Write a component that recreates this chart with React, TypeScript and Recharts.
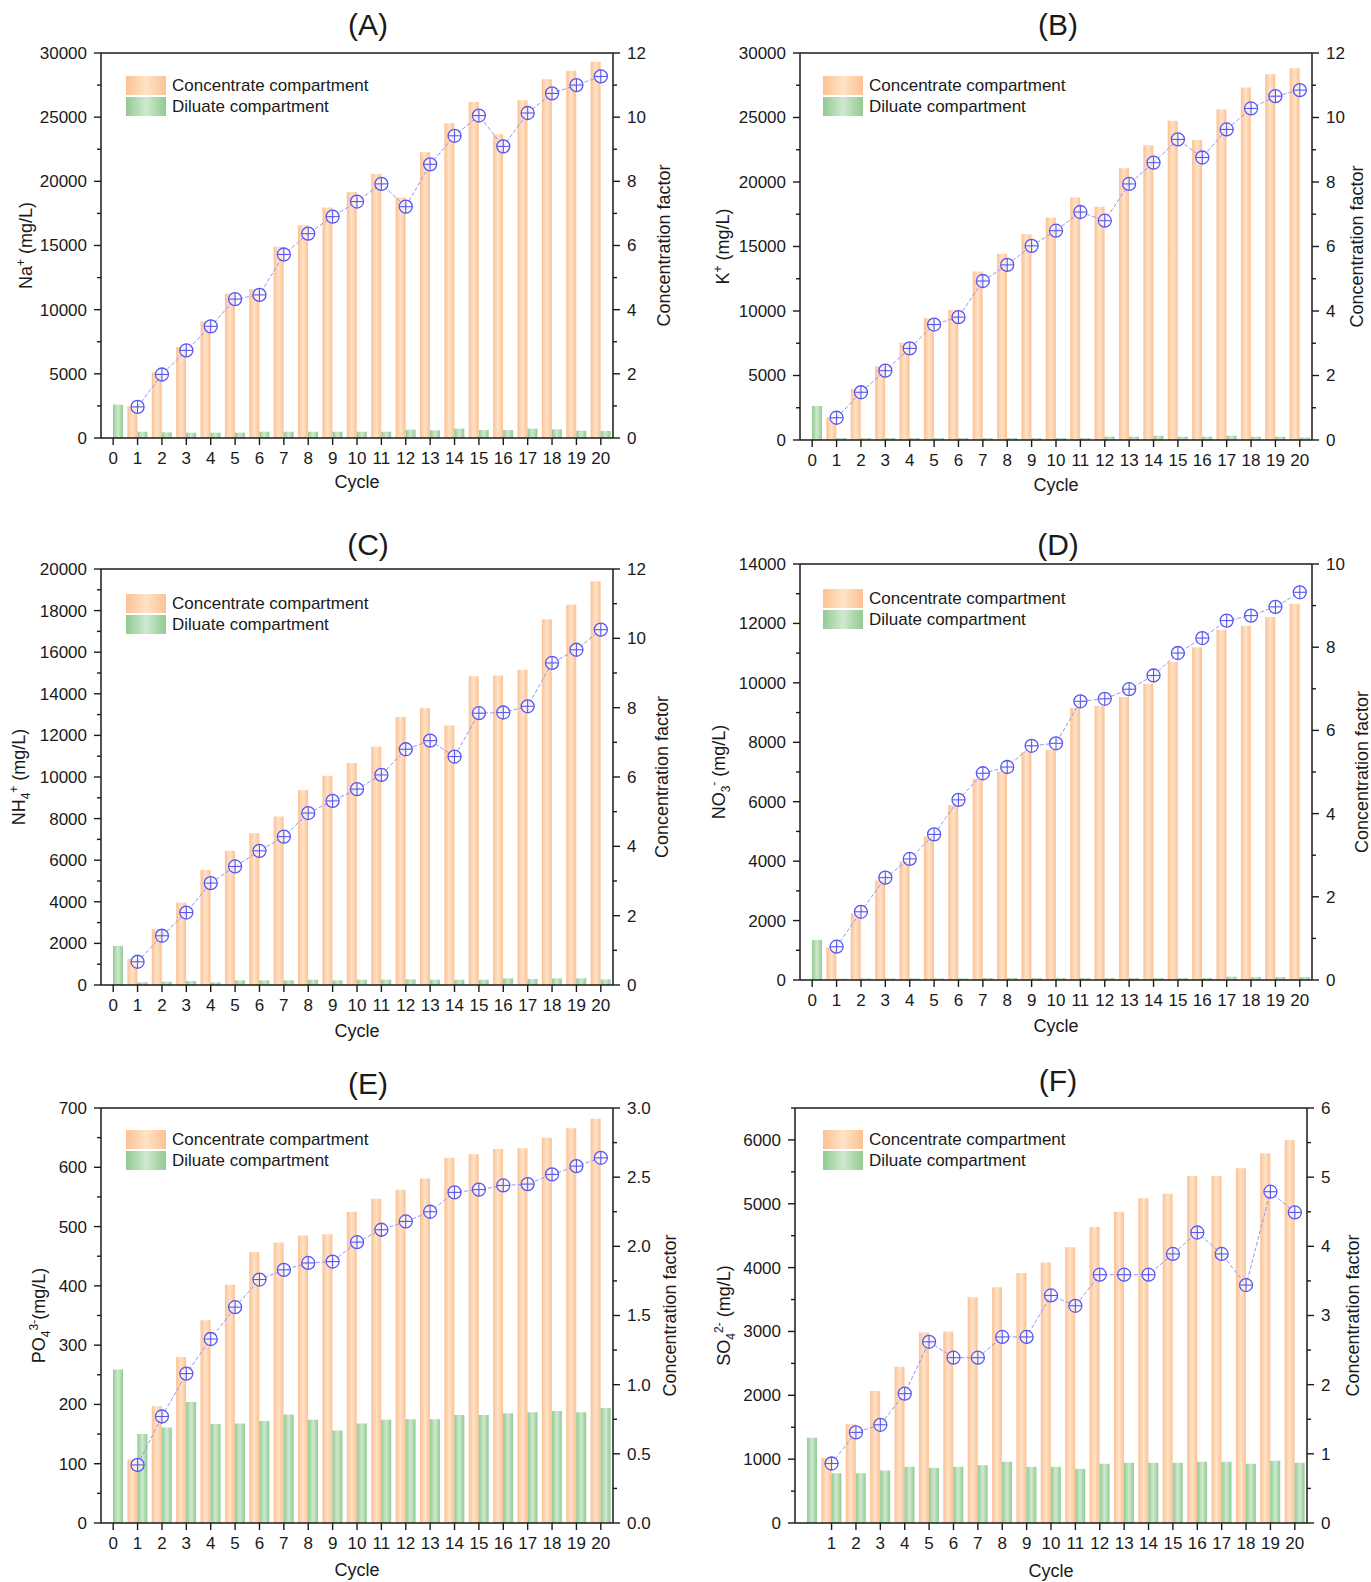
import React from 'react';
import { ComposedChart, Bar, Line, XAxis, YAxis, ReferenceLine, Legend } from 'recharts';

// ---------- data ----------
const cycles = [0, 1, 2, 3, 4, 5, 6, 7, 8, 9, 10, 11, 12, 13, 14, 15, 16, 17, 18, 19, 20];

const naConc = [null, 2470, 5120, 7090, 9090, 11250, 11610, 14910, 16570, 17970, 19170, 20570, 18750, 22260, 24520, 26180, 23660, 26310, 27950, 28620, 29320];
const naDil = [2600, 490, 440, 415, 415, 415, 490, 490, 490, 490, 490, 490, 650, 600, 730, 620, 620, 730, 680, 570, 545];
const naCF = [null, 0.97, 1.98, 2.73, 3.48, 4.33, 4.46, 5.72, 6.37, 6.9, 7.37, 7.92, 7.21, 8.53, 9.42, 10.05, 9.09, 10.13, 10.74, 11.0, 11.27];

const kConc = [null, 1750, 3970, 5720, 7530, 9460, 10100, 13070, 14430, 15950, 17240, 18790, 18090, 21060, 22840, 24740, 23250, 25620, 27320, 28350, 28810];
const kDil = [2630, 155, 155, 155, 155, 155, 155, 155, 155, 155, 155, 155, 260, 260, 335, 260, 260, 335, 260, 260, 200];
const kCF = [null, 0.69, 1.48, 2.15, 2.84, 3.58, 3.81, 4.93, 5.43, 6.02, 6.49, 7.07, 6.8, 7.94, 8.6, 9.32, 8.76, 9.63, 10.28, 10.66, 10.85];

const nh4Conc = [null, 1250, 2680, 3960, 5530, 6450, 7300, 8100, 9380, 10060, 10670, 11470, 12880, 13310, 12480, 14840, 14880, 15160, 17590, 18280, 19410];
const nh4Dil = [1880, 130, 160, 190, 130, 225, 225, 225, 255, 225, 255, 255, 270, 255, 255, 255, 320, 290, 320, 320, 270];
const nh4CF = [null, 0.67, 1.42, 2.09, 2.94, 3.42, 3.87, 4.28, 4.96, 5.31, 5.65, 6.06, 6.8, 7.05, 6.59, 7.84, 7.86, 8.04, 9.29, 9.67, 10.25];

const no3Conc = [null, 1100, 2245, 3345, 3985, 4830, 5890, 6770, 7020, 7670, 7750, 9150, 9230, 9520, 9970, 10700, 11200, 11790, 11920, 12220, 12660];
const no3Dil = [1350, 45, 56, 56, 56, 56, 56, 67, 67, 67, 67, 67, 67, 67, 67, 67, 67, 112, 100, 100, 100];
const no3CF = [null, 0.8, 1.64, 2.46, 2.91, 3.5, 4.33, 4.97, 5.12, 5.63, 5.69, 6.7, 6.76, 6.99, 7.32, 7.86, 8.22, 8.64, 8.76, 8.97, 9.32];

const po4Conc = [null, 107, 197, 280, 342, 402, 457, 473, 485, 487, 525, 547, 562, 581, 616, 622, 631, 632, 650, 666, 682];
const po4Dil = [259, 150, 161, 204, 167, 168, 172, 183, 174, 156, 168, 174, 175, 175, 182, 182, 185, 187, 189, 187, 194];
const po4CF = [null, 0.42, 0.77, 1.08, 1.33, 1.56, 1.76, 1.83, 1.88, 1.89, 2.03, 2.12, 2.18, 2.25, 2.39, 2.41, 2.44, 2.45, 2.52, 2.58, 2.64];

const so4Conc = [null, 1020, 1548, 2067, 2449, 2984, 3000, 3535, 3694, 3917, 4081, 4320, 4638, 4876, 5088, 5157, 5433, 5433, 5555, 5793, 6000];
const so4Dil = [1336, 779, 779, 822, 880, 864, 880, 906, 959, 880, 880, 848, 928, 943, 943, 943, 959, 959, 928, 975, 943];
const so4CF = [null, 0.86, 1.31, 1.42, 1.87, 2.62, 2.39, 2.39, 2.69, 2.69, 3.29, 3.14, 3.59, 3.59, 3.59, 3.89, 4.2, 3.89, 3.44, 4.79, 4.49];

// tick labels
const ticks30000 = [0, 5000, 10000, 15000, 20000, 25000, 30000];
const ticks20000 = [0, 2000, 4000, 6000, 8000, 10000, 12000, 14000, 16000, 18000, 20000];
const ticks14000 = [0, 2000, 4000, 6000, 8000, 10000, 12000, 14000];
const ticks700 = [0, 100, 200, 300, 400, 500, 600, 700];
const ticks6000 = [0, 1000, 2000, 3000, 4000, 5000, 6000];
const cfTicks12 = [0, 2, 4, 6, 8, 10, 12];
const cfTicks10 = [0, 2, 4, 6, 8, 10];
const cfTicks3 = [0, 0.5, 1.0, 1.5, 2.0, 2.5, 3.0];
const cfTicks6 = [0, 1, 2, 3, 4, 5, 6];

const seriesNames = ['Concentrate compartment', 'Diluate compartment'];
const xTitle = 'Cycle';
const rightTitle = 'Concentration factor';

// ---------- style ----------
const FONT = '"Liberation Sans", Arial, Helvetica, sans-serif';
const INK = '#1a1a1a';
const ORANGE_EDGE = '#FCC193';
const ORANGE_MID = '#FFE3C8';
const GREEN_EDGE = '#92CA92';
const GREEN_MID = '#CFE9CF';
const LINE_COLOR = '#9595f5';
const DOT_COLOR = '#5858f0';

const WL = 100;
const WR = 80;
const MT = 10;
const XH = 66;

type Ion = { base: string; sub?: string; sup: string; rest: string };

const withMinors = (majors: number[], max: number) => {
  const out: number[] = [];
  for (let i = 0; i < majors.length; i++) {
    out.push(majors[i]);
    if (i < majors.length - 1) out.push((majors[i] + majors[i + 1]) / 2);
  }
  const last = majors[majors.length - 1];
  const step = majors[1] - majors[0];
  if (last + step / 2 <= max + 1e-9) out.push(last + step / 2);
  return out;
};

const makeYTick = (side: 'left' | 'right', majors: number[], fmt: (v: number) => string) => (props: any) => {
  const { x, y, payload, index } = props;
  const v = payload.value;
  const isMajor = majors.some((m) => Math.abs(m - v) < 1e-9);
  const len = isMajor ? 7 : 4;
  const dir = side === 'left' ? -1 : 1;
  return (
    <g key={`t${side}${index}`}>
      <line x1={x} x2={x + dir * len} y1={y} y2={y} stroke={INK} strokeWidth={1.4} />
      {isMajor && (
        <text
          x={x + dir * 14}
          y={y}
          dy="0.35em"
          textAnchor={side === 'left' ? 'end' : 'start'}
          fontSize={17}
          fontFamily={FONT}
          fill={INK}
        >
          {fmt(v)}
        </text>
      )}
    </g>
  );
};

const makeXTick = (hideZero: boolean) => (props: any) => {
  const { x, y, payload, index } = props;
  if (hideZero && Number(payload.value) === 0) return <g key={`x${index}`} />;
  return (
    <g key={`x${index}`}>
      <line x1={x} x2={x} y1={y} y2={y + 7} stroke={INK} strokeWidth={1.4} />
      <text x={x} y={y + 20} dy="0.35em" textAnchor="middle" fontSize={17} fontFamily={FONT} fill={INK}>
        {payload.value}
      </text>
    </g>
  );
};

const LeftTitle = (props: any) => {
  const { viewBox, ion, dist } = props;
  if (!viewBox) return null;
  const ax = viewBox.x + viewBox.width;
  const cy = viewBox.y + viewBox.height / 2;
  const cx = ax - dist + 6.5;
  const i: Ion = ion;
  return (
    <text transform={`translate(${cx},${cy}) rotate(-90)`} textAnchor="middle" fontSize={18} fontFamily={FONT} fill={INK}>
      <tspan>{i.base}</tspan>
      {i.sub ? <tspan dy={5} fontSize={12}>{i.sub}</tspan> : null}
      <tspan dy={i.sub ? -12 : -7} fontSize={12}>{i.sup}</tspan>
      <tspan dy={7}>{i.rest}</tspan>
    </text>
  );
};

const RightTitle = (props: any) => {
  const { viewBox, dist } = props;
  if (!viewBox) return null;
  const cy = viewBox.y + viewBox.height / 2;
  const cx = viewBox.x + dist + 6.5;
  return (
    <text transform={`translate(${cx},${cy}) rotate(-90)`} textAnchor="middle" fontSize={18} fontFamily={FONT} fill={INK}>
      {rightTitle}
    </text>
  );
};

const BottomTitle = (props: any) => {
  const { viewBox, dist } = props;
  if (!viewBox) return null;
  const cx = viewBox.x + viewBox.width / 2;
  const cy = viewBox.y + dist;
  return (
    <text x={cx} y={cy} dy="0.35em" textAnchor="middle" fontSize={18} fontFamily={FONT} fill={INK}>
      {xTitle}
    </text>
  );
};

const renderDot = (props: any) => {
  const { cx, cy, index } = props;
  if (cx == null || cy == null || Number.isNaN(cy)) return <g key={`d${index}`} />;
  const r = 6.5;
  return (
    <g key={`d${index}`}>
      <circle cx={cx} cy={cy} r={r} fill="#ffffff" fillOpacity={0.6} stroke={DOT_COLOR} strokeWidth={1.3} />
      <line x1={cx - r} x2={cx + r} y1={cy} y2={cy} stroke={DOT_COLOR} strokeWidth={1.1} />
      <line x1={cx} x2={cx} y1={cy - r} y2={cy + r} stroke={DOT_COLOR} strokeWidth={1.1} />
    </g>
  );
};

const LegendBox = () => {
  const bgs = [
    `linear-gradient(to right, ${ORANGE_EDGE}, ${ORANGE_MID} 50%, ${ORANGE_EDGE})`,
    `linear-gradient(to right, ${GREEN_EDGE}, ${GREEN_MID} 50%, ${GREEN_EDGE})`,
  ];
  return (
    <div style={{ fontFamily: FONT, fontSize: 17, color: INK, lineHeight: 1 }}>
      {seriesNames.map((n, i) => (
        <div key={n} style={{ display: 'flex', alignItems: 'center', height: 19, marginBottom: 2 }}>
          <div style={{ width: 40, height: 19, background: bgs[i] }} />
          <span style={{ marginLeft: 6, whiteSpace: 'nowrap' }}>{n}</span>
        </div>
      ))}
    </div>
  );
};

type PanelCfg = {
  id: string;
  title: string;
  titleX: number;
  titleY: number;
  left: number;
  top: number;
  width: number;
  height: number;
  conc: (number | null)[];
  dil: (number | null)[];
  cf: (number | null)[];
  lMax: number;
  lMajor: number[];
  rMax: number;
  rMajor: number[];
  rFmt: (v: number) => string;
  ion: Ion;
  lDist: number;
  rDist: number;
  xDist: number;
  legend: [number, number];
  hideZero: boolean;
};

const intFmt = (v: number) => String(v);
const oneDec = (v: number) => v.toFixed(1);

const panels: PanelCfg[] = [
  { id: 'A', title: '(A)', titleX: 368, titleY: 25, left: 101, top: 53, width: 512, height: 385, conc: naConc, dil: naDil, cf: naCF, lMax: 30000, lMajor: ticks30000, rMax: 12, rMajor: cfTicks12, rFmt: intFmt, ion: { base: 'Na', sup: '+', rest: ' (mg/L)' }, lDist: 76, rDist: 50, xDist: 44, legend: [25, 23], hideZero: false },
  { id: 'B', title: '(B)', titleX: 1058, titleY: 25, left: 800, top: 53, width: 512, height: 387, conc: kConc, dil: kDil, cf: kCF, lMax: 30000, lMajor: ticks30000, rMax: 12, rMajor: cfTicks12, rFmt: intFmt, ion: { base: 'K', sup: '+', rest: ' (mg/L)' }, lDist: 78, rDist: 44, xDist: 45, legend: [23, 23], hideZero: false },
  { id: 'C', title: '(C)', titleX: 368, titleY: 545, left: 101, top: 569, width: 512, height: 416, conc: nh4Conc, dil: nh4Dil, cf: nh4CF, lMax: 20000, lMajor: ticks20000, rMax: 12, rMajor: cfTicks12, rFmt: intFmt, ion: { base: 'NH', sub: '4', sup: '+', rest: ' (mg/L)' }, lDist: 83, rDist: 48, xDist: 46, legend: [25, 25], hideZero: false },
  { id: 'D', title: '(D)', titleX: 1058, titleY: 545, left: 800, top: 564, width: 512, height: 416, conc: no3Conc, dil: no3Dil, cf: no3CF, lMax: 14000, lMajor: ticks14000, rMax: 10, rMajor: cfTicks10, rFmt: intFmt, ion: { base: 'NO', sub: '3', sup: '-', rest: ' (mg/L)' }, lDist: 82, rDist: 49, xDist: 46, legend: [23, 25], hideZero: false },
  { id: 'E', title: '(E)', titleX: 368, titleY: 1084, left: 101, top: 1108, width: 512, height: 415, conc: po4Conc, dil: po4Dil, cf: po4CF, lMax: 700, lMajor: ticks700, rMax: 3, rMajor: cfTicks3, rFmt: oneDec, ion: { base: 'PO', sub: '4', sup: '3-', rest: '(mg/L)' }, lDist: 63, rDist: 56, xDist: 47, legend: [25, 22], hideZero: false },
  { id: 'F', title: '(F)', titleX: 1058, titleY: 1081, left: 795, top: 1108, width: 512, height: 415, conc: so4Conc, dil: so4Dil, cf: so4CF, lMax: 6500, lMajor: ticks6000, rMax: 6, rMajor: cfTicks6, rFmt: intFmt, ion: { base: 'SO', sub: '4', sup: '2-', rest: ' (mg/L)' }, lDist: 72, rDist: 45, xDist: 48, legend: [28, 22], hideZero: true },
];

const Panel = ({ p }: { p: PanelCfg }) => {
  const rows = cycles.map((c, i) => ({ cycle: c, conc: p.conc[i], dil: p.dil[i], cf: p.cf[i] }));
  const W = WL + p.width + WR;
  const H = MT + p.height + XH;
  const oId = `og${p.id}`;
  const gId = `gg${p.id}`;
  return (
    <>
      <div
        style={{
          position: 'absolute',
          left: p.titleX - 60,
          top: p.titleY - 18,
          width: 120,
          textAlign: 'center',
          fontFamily: FONT,
          fontSize: 30,
          lineHeight: '36px',
          color: INK,
        }}
      >
        {p.title}
      </div>
      <div style={{ position: 'absolute', left: p.left - WL, top: p.top - MT, width: W, height: H }}>
        <ComposedChart width={W} height={H} data={rows} margin={{ top: MT, right: 0, bottom: 0, left: 0 }} barGap={0} barCategoryGap={0}>
          <defs>
            <linearGradient id={oId} x1="0" x2="1" y1="0" y2="0">
              <stop offset="0%" stopColor={ORANGE_EDGE} />
              <stop offset="50%" stopColor={ORANGE_MID} />
              <stop offset="100%" stopColor={ORANGE_EDGE} />
            </linearGradient>
            <linearGradient id={gId} x1="0" x2="1" y1="0" y2="0">
              <stop offset="0%" stopColor={GREEN_EDGE} />
              <stop offset="50%" stopColor={GREEN_MID} />
              <stop offset="100%" stopColor={GREEN_EDGE} />
            </linearGradient>
          </defs>
          <XAxis
            dataKey="cycle"
            type="category"
            height={XH}
            interval={0}
            tickLine={false}
            tickSize={0}
            tickMargin={0}
            tick={makeXTick(p.hideZero)}
            axisLine={{ stroke: INK, strokeWidth: 1.5 }}
            label={<BottomTitle dist={p.xDist} />}
          />
          <YAxis
            yAxisId="L"
            orientation="left"
            type="number"
            width={WL}
            domain={[0, p.lMax]}
            ticks={withMinors(p.lMajor, p.lMax)}
            interval={0}
            tickLine={false}
            tickSize={0}
            tickMargin={0}
            tick={makeYTick('left', p.lMajor, intFmt)}
            axisLine={{ stroke: INK, strokeWidth: 1.5 }}
            allowDataOverflow
            label={<LeftTitle ion={p.ion} dist={p.lDist} />}
          />
          <YAxis
            yAxisId="R"
            orientation="right"
            type="number"
            width={WR}
            domain={[0, p.rMax]}
            ticks={withMinors(p.rMajor, p.rMax)}
            interval={0}
            tickLine={false}
            tickSize={0}
            tickMargin={0}
            tick={makeYTick('right', p.rMajor, p.rFmt)}
            axisLine={{ stroke: INK, strokeWidth: 1.5 }}
            allowDataOverflow
            label={<RightTitle dist={p.rDist} />}
          />
          <ReferenceLine yAxisId="L" y={p.lMax} stroke={INK} strokeWidth={1.5} />
          <Legend
            layout="vertical"
            align="center"
            verticalAlign="middle"
            wrapperStyle={{ left: WL + p.legend[0], top: MT + p.legend[1], width: 'auto', height: 'auto' }}
            content={() => <LegendBox />}
          />
          <Bar yAxisId="L" dataKey="conc" name={seriesNames[0]} barSize={10} fill={`url(#${oId})`} isAnimationActive={false} />
          <Bar yAxisId="L" dataKey="dil" name={seriesNames[1]} barSize={10} fill={`url(#${gId})`} isAnimationActive={false} />
          <Line
            yAxisId="R"
            dataKey="cf"
            stroke={LINE_COLOR}
            strokeWidth={1}
            strokeDasharray="4 2"
            dot={renderDot}
            activeDot={false}
            isAnimationActive={false}
            legendType="none"
          />
        </ComposedChart>
      </div>
    </>
  );
};

export default function App() {
  return (
    <div style={{ position: 'absolute', left: 0, top: 0, width: 1371, height: 1582, overflow: 'hidden', background: '#fff' }}>
      {panels.map((p) => (
        <Panel key={p.id} p={p} />
      ))}
    </div>
  );
}
